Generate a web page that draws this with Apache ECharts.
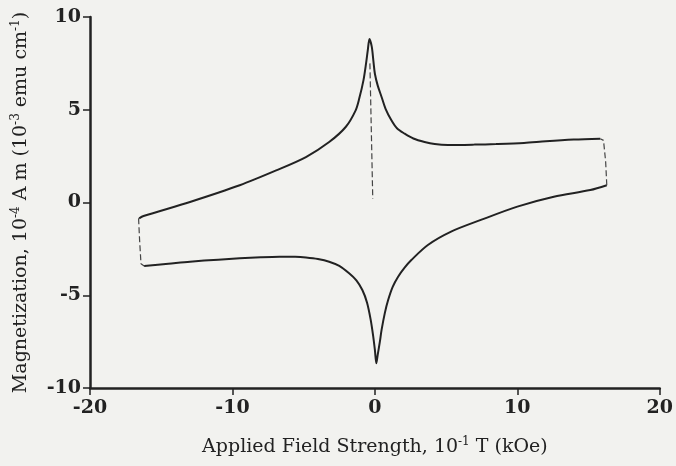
<!DOCTYPE html>
<html>
<head>
<meta charset="utf-8">
<script src="https://cdn.jsdelivr.net/npm/echarts@6/dist/echarts.min.js"></script>
<style>
  html, body { margin: 0; padding: 0; background: #f2f2ef; }
  #main { width: 676px; height: 466px; }
</style>
</head>
<body>
<div id="main"></div>
<script>
// main hysteresis loop, [field (10^-1 T), magnetization (10^-4 A m)]
var upperBranch = [
  [15.82, 3.44], [13.96, 3.39], [12.0, 3.30], [10.47, 3.21], [8.5, 3.15], [6.98, 3.12],
  [5.12, 3.10], [4.2, 3.15], [3.49, 3.26], [2.7, 3.45], [2.09, 3.71], [1.55, 4.0],
  [1.16, 4.43], [0.75, 5.05], [0.47, 5.69], [0.2, 6.3], [0.0, 6.94], [-0.1, 7.6],
  [-0.22, 8.4], [-0.38, 8.82], [-0.5, 8.2], [-0.62, 7.5], [-0.8, 6.6], [-1.1, 5.6],
  [-1.35, 4.97], [-2.05, 4.07], [-3.21, 3.26], [-4.84, 2.45], [-6.93, 1.73],
  [-9.49, 0.93], [-12.98, 0.03], [-16.24, -0.73], [-16.55, -0.85]
];
var lowerBranch = [
  [-16.2, -3.42], [-14.5, -3.3], [-12.98, -3.19], [-11.0, -3.08], [-9.49, -3.01],
  [-8.0, -2.95], [-6.7, -2.92], [-5.6, -2.93], [-4.84, -2.97], [-4.0, -3.05],
  [-3.21, -3.19], [-2.5, -3.42], [-1.81, -3.82], [-1.3, -4.2], [-0.88, -4.72],
  [-0.55, -5.4], [-0.3, -6.3], [-0.12, -7.2], [0.0, -7.95], [0.1, -8.67],
  [0.2, -8.2], [0.35, -7.5], [0.47, -6.87], [0.7, -5.95], [0.93, -5.26],
  [1.25, -4.55], [1.63, -4.0], [2.1, -3.5], [2.56, -3.1], [3.72, -2.29],
  [5.35, -1.57], [7.44, -0.94], [10.0, -0.22], [12.56, 0.31], [15.12, 0.67],
  [16.28, 0.93]
];
// field reversal steps and the initial trace (broken lines)
var leftStep = [[-16.59, -0.85], [-16.52, -2.0], [-16.42, -3.3], [-16.2, -3.42]];
var rightStep = [[16.28, 0.93], [16.2, 2.2], [16.05, 3.35], [15.82, 3.44]];
var centreTrace = [[-0.35, 7.5], [-0.15, 0.2]];

var xTicks = { min: -20, max: 20, step: 10 };
var yTicks = { min: -10, max: 10, step: 5 };

var ink = '#222';
var serif = 'DejaVu Serif';

var chart = echarts.init(document.getElementById('main'));

function solid(data) {
  return {
    type: 'line', data: data, showSymbol: false, smooth: 0.3,
    lineStyle: { color: ink, width: 2 }
  };
}
function broken(data) {
  return {
    type: 'line', data: data, showSymbol: false,
    lineStyle: { color: '#444', width: 1.2, type: [6, 3] }
  };
}

var titleRich = {
  n: { fontFamily: serif, fontSize: 19, color: ink, lineHeight: 22 },
  s: { fontFamily: serif, fontSize: 12, color: ink, lineHeight: 13, verticalAlign: 'top' }
};

chart.setOption({
  backgroundColor: '#f2f2ef',
  animation: false,
  grid: { left: 90, right: 13, top: 17, bottom: 78 },
  xAxis: {
    type: 'value', min: xTicks.min, max: xTicks.max, interval: xTicks.step,
    name: '{n|Applied Field Strength, 10}{s|-1}{n| T (kOe)}',
    nameLocation: 'middle', nameGap: 48,
    nameTextStyle: { rich: titleRich },
    splitLine: { show: false },
    axisLine: { onZero: false, lineStyle: { color: ink, width: 2.5 } },
    axisTick: { length: 7, lineStyle: { color: ink, width: 1.5 } },
    axisLabel: { margin: 11, fontFamily: serif, fontSize: 19, fontWeight: 'bold', color: ink }
  },
  yAxis: {
    type: 'value', min: yTicks.min, max: yTicks.max, interval: yTicks.step,
    name: '{n|Magnetization, 10}{s|-4}{n| A m (10}{s|-3}{n| emu cm}{s|-1}{n|)}',
    nameLocation: 'middle', nameGap: 58, nameRotate: 90,
    nameTextStyle: { rich: titleRich },
    splitLine: { show: false },
    axisLine: { onZero: false, lineStyle: { color: ink, width: 2.5 } },
    axisTick: { length: 7, lineStyle: { color: ink, width: 1.5 } },
    axisLabel: { margin: 9, fontFamily: serif, fontSize: 19, fontWeight: 'bold', color: ink }
  },
  series: [
    solid(upperBranch),
    solid(lowerBranch),
    broken(leftStep),
    broken(rightStep),
    broken(centreTrace)
  ]
});
</script>
</body>
</html>
